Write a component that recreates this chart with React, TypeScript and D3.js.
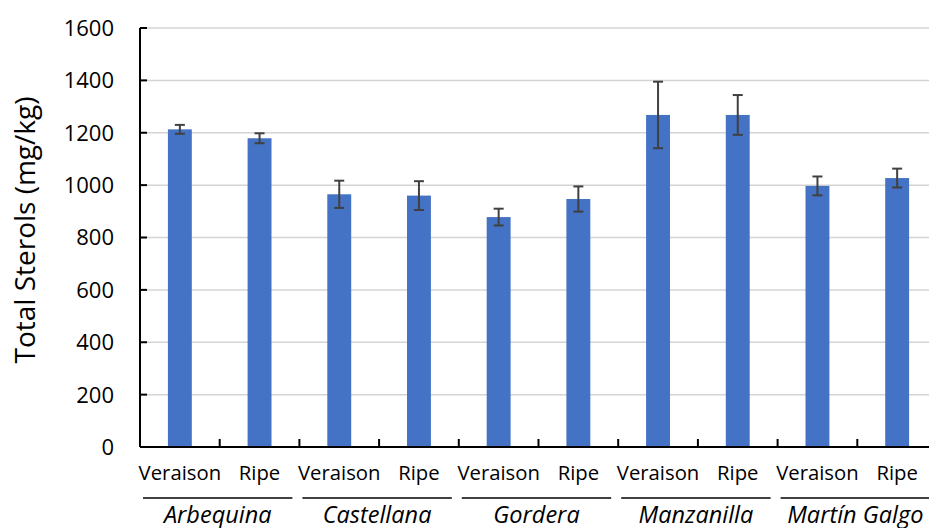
import React, { useEffect, useRef } from 'react';
import * as d3 from 'd3';

const cultivars = ['Arbequina', 'Castellana', 'Gordera', 'Manzanilla', 'Martín Galgo'];
const stages = ['Veraison', 'Ripe'];
const sterols = [1213, 1179, 965, 960, 878, 947, 1268, 1268, 997, 1027];
const errors = [17, 19, 52, 55, 32, 48, 127, 76, 36, 36];
const yTicks = [0, 200, 400, 600, 800, 1000, 1200, 1400, 1600];

const App: React.FC = () => {
  const ref = useRef<SVGSVGElement | null>(null);

  useEffect(() => {
    const width = 929;
    const height = 528;
    const left = 140;
    const step = 79.7;
    const top = 28;
    const bottom = 447;
    const font = '"Open Sans", sans-serif';

    const svg = d3.select(ref.current)
      .attr('width', width)
      .attr('height', height)
      .style('display', 'block')
      .style('position', 'absolute')
      .style('left', '0px')
      .style('top', '0px')
      .style('background', '#ffffff');
    svg.selectAll('*').remove();

    const keys = cultivars.flatMap(c => stages.map(s => `${c}|${s}`));
    const x = d3.scaleBand<string>()
      .domain(keys)
      .range([left, left + step * keys.length])
      .paddingInner(0.7)
      .paddingOuter(0.35);
    const y = d3.scaleLinear().domain([0, 1600]).range([bottom, top]);

    // gridlines
    svg.append('g').selectAll('line')
      .data(yTicks.filter(t => t > 0))
      .join('line')
        .attr('x1', left).attr('x2', width)
        .attr('y1', d => y(d)).attr('y2', d => y(d))
        .attr('stroke', '#d4d4d4').attr('stroke-width', 1.5);

    // bars
    svg.append('g').selectAll('rect')
      .data(sterols)
      .join('rect')
        .attr('x', (_, i) => x(keys[i])!)
        .attr('y', d => y(d))
        .attr('width', x.bandwidth())
        .attr('height', d => bottom - y(d))
        .attr('fill', '#4472C4');

    // error bars
    const eb = svg.append('g').attr('stroke', '#404040').attr('stroke-width', 2);
    sterols.forEach((v, i) => {
      const cx = x(keys[i])! + x.bandwidth() / 2;
      const e = errors[i];
      eb.append('line').attr('x1', cx).attr('x2', cx).attr('y1', y(v + e)).attr('y2', y(v - e));
      eb.append('line').attr('x1', cx - 5).attr('x2', cx + 5).attr('y1', y(v + e)).attr('y2', y(v + e));
      eb.append('line').attr('x1', cx - 5).attr('x2', cx + 5).attr('y1', y(v - e)).attr('y2', y(v - e));
    });

    // axes lines
    svg.append('line')
      .attr('x1', left).attr('x2', left).attr('y1', top).attr('y2', bottom)
      .attr('stroke', '#000').attr('stroke-width', 2);
    svg.append('line')
      .attr('x1', left).attr('x2', width).attr('y1', bottom).attr('y2', bottom)
      .attr('stroke', '#000').attr('stroke-width', 2);

    // y ticks + labels
    const yt = svg.append('g');
    yt.selectAll('line')
      .data(yTicks)
      .join('line')
        .attr('x1', left).attr('x2', left + 7)
        .attr('y1', d => y(d)).attr('y2', d => y(d))
        .attr('stroke', '#000').attr('stroke-width', 2);
    yt.selectAll('text')
      .data(yTicks)
      .join('text')
        .attr('x', 114)
        .attr('y', d => y(d))
        .attr('dy', '0.36em')
        .attr('text-anchor', 'end')
        .style('font-family', font)
        .style('font-size', '22px')
        .attr('fill', '#000')
        .text(d => d);

    // x category ticks (boundaries)
    svg.append('g').selectAll('line')
      .data(d3.range(keys.length + 1))
      .join('line')
        .attr('x1', i => left + step * i).attr('x2', i => left + step * i)
        .attr('y1', bottom).attr('y2', bottom - 8)
        .attr('stroke', '#000').attr('stroke-width', 2);

    // stage labels
    svg.append('g').selectAll('text')
      .data(keys)
      .join('text')
        .attr('x', d => x(d)! + x.bandwidth() / 2)
        .attr('y', 480)
        .attr('text-anchor', 'middle')
        .style('font-family', font)
        .style('font-size', '20.3px')
        .attr('fill', '#000')
        .text(d => d.split('|')[1]);

    // cultivar group lines and labels
    const g = svg.append('g');
    cultivars.forEach(c => {
      const x0 = x(`${c}|${stages[0]}`)! - x.step() * 0.35;
      const x1 = x0 + x.step() * 2;
      g.append('line')
        .attr('x1', x0 + 3).attr('x2', x1 - 7)
        .attr('y1', 498).attr('y2', 498)
        .attr('stroke', '#000').attr('stroke-width', 1.5);
      g.append('text')
        .attr('x', (x0 + x1) / 2 - 2)
        .attr('y', 523)
        .attr('text-anchor', 'middle')
        .style('font-family', font)
        .style('font-style', 'italic')
        .style('font-size', '23.5px')
        .attr('fill', '#000')
        .text(c);
    });

    // y axis title
    svg.append('text')
      .attr('transform', `translate(35, 230) rotate(-90)`)
      .attr('text-anchor', 'middle')
      .style('font-family', font)
      .style('font-size', '28px')
      .attr('fill', '#000')
      .text('Total Sterols (mg/kg)');
  }, []);

  return <svg ref={ref}></svg>;
};

export default App;
